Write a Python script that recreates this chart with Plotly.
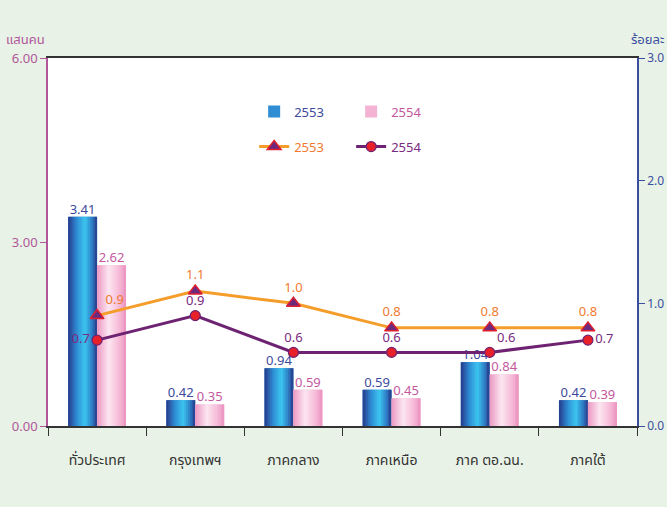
import plotly.graph_objects as go
import numpy as np

categories = ["ทั่วประเทศ", "กรุงเทพฯ", "ภาคกลาง", "ภาคเหนือ", "ภาค ตอ.ฉน.", "ภาคใต้"]
pop_2553 = [3.41, 0.42, 0.94, 0.59, 1.04, 0.42]
pop_2554 = [2.62, 0.35, 0.59, 0.45, 0.84, 0.39]
rate_2553 = [0.9, 1.1, 1.0, 0.8, 0.8, 0.8]
rate_2554 = [0.7, 0.9, 0.6, 0.6, 0.6, 0.7]
left_ticks = [0, 3, 6]
right_ticks = [0, 1, 2, 3]
years = ["2553", "2554"]

FONT = "Tahoma, 'Noto Sans Thai', Loma, Garuda, 'Noto Sans', sans-serif"
idx = np.arange(len(categories))
W = 0.295
N = 16

blue_stops = [(0, "#26398a"), (0.3, "#2f8dd4"), (0.58, "#3cc6f0"), (0.82, "#2f7fc6"), (1, "#273b8b")]
pink_stops = [(0, "#ec98c3"), (0.4, "#fce6f1"), (0.75, "#f6bcd8"), (1, "#eb93c0")]


def hex2rgb(h):
    h = h.lstrip("#")
    return [int(h[i:i + 2], 16) for i in (0, 2, 4)]


def interp(stops, t):
    for (p0, c0), (p1, c1) in zip(stops[:-1], stops[1:]):
        if p0 <= t <= p1:
            f = (t - p0) / (p1 - p0)
            a, b = hex2rgb(c0), hex2rgb(c1)
            r = [round(a[i] + (b[i] - a[i]) * f) for i in range(3)]
            return "rgb(%d,%d,%d)" % tuple(r)
    return stops[-1][1]


fig = go.Figure()

bar_series = [
    (years[0], pop_2553, -W, blue_stops, "#3b4a9c", "#2f8dd4"),
    (years[1], pop_2554, 0.0, pink_stops, "#c4589e", "#f4b3d3"),
]

for name, vals, off, stops, tcol, legcol in bar_series:
    # legend entry (hidden beneath gradient strips)
    fig.add_trace(go.Bar(
        x=idx, y=vals, width=W, offset=off,
        marker=dict(color=legcol, line=dict(width=0)),
        name="<span style='color:%s'>%s</span>" % (tcol, name),
        legend="legend", showlegend=True, hoverinfo="skip",
    ))
    s = W / N
    for k in range(N):
        wk = min(s * 1.6, W - k * s)
        fig.add_trace(go.Bar(
            x=idx, y=vals, width=wk, offset=off + k * s,
            marker=dict(color=interp(stops, (k + 0.5) / N), line=dict(width=0)),
            showlegend=False, hoverinfo="skip",
        ))
    fig.add_trace(go.Scatter(
        x=idx + off + W / 2, y=vals, mode="text",
        text=["%.2f" % v for v in vals], textposition="top center",
        textfont=dict(color=tcol, size=13, family=FONT),
        showlegend=False, hoverinfo="skip",
    ))

pos_2553 = ["top right"] + ["top center"] * (len(categories) - 1)
pos_2554 = ["middle left", "top center", "top center", "top center", "top right", "middle right"]

fig.add_trace(go.Scatter(
    x=idx, y=rate_2553, yaxis="y2", mode="lines+markers+text",
    line=dict(color="#f59d2a", width=3),
    marker=dict(symbol="triangle-up", size=12, color="#6b2a7e", line=dict(color="#e02030", width=1.5)),
    text=["%.1f" % v for v in rate_2553], textposition=pos_2553,
    textfont=dict(color="#f07a30", size=13, family=FONT),
    name="<span style='color:#f07a30'>%s</span>" % years[0], legend="legend2",
))
fig.add_trace(go.Scatter(
    x=idx, y=rate_2554, yaxis="y2", mode="lines+markers+text",
    line=dict(color="#6e2372", width=3),
    marker=dict(symbol="circle", size=10, color="#e8202a", line=dict(color="#6e2372", width=1.2)),
    text=["%.1f" % v for v in rate_2554], textposition=pos_2554,
    textfont=dict(color="#7a2a80", size=13, family=FONT),
    name="<span style='color:#7a2a80'>%s</span>" % years[1], legend="legend2",
))

fig.update_layout(
    width=667, height=507,
    margin=dict(l=48, r=30, t=58, b=81, autoexpand=False),
    paper_bgcolor="#e8f2e6", plot_bgcolor="#ffffff",
    font=dict(family=FONT, size=13),
    barmode="overlay",
    xaxis=dict(
        range=[-0.5, len(categories) - 0.5],
        tickvals=idx, ticktext=categories, ticks="",
        tickfont=dict(color="#333333", size=14, family=FONT),
        ticklabelstandoff=20, automargin=False,
        showline=True, linecolor="#333333", linewidth=1.5, mirror=True,
        showgrid=False, zeroline=False,
        minor=dict(tick0=-0.5, dtick=1, ticks="outside", ticklen=8, tickcolor="#333333", showgrid=False),
    ),
    yaxis=dict(
        range=[0, 6], tickvals=left_ticks, tickformat=".2f",
        ticks="outside", ticklen=6, tickcolor="#b0579a",
        tickfont=dict(color="#b0579a", size=13, family=FONT),
        showline=True, linecolor="#b0579a", linewidth=1.5, automargin=False,
        showgrid=False, zeroline=False,
    ),
    yaxis2=dict(
        range=[0, 3], tickvals=right_ticks, tickformat=".1f",
        overlaying="y", side="right",
        ticks="outside", ticklen=6, tickcolor="#3a4fa0",
        ticklabelstandoff=0, automargin=False,
        tickfont=dict(color="#3a4fa0", size=12, family=FONT),
        showline=True, linecolor="#3a4fa0", linewidth=1.5,
        showgrid=False, zeroline=False,
    ),
    legend=dict(
        orientation="h", x=0.35, y=0.895, xanchor="left", yanchor="top",
        bgcolor="rgba(0,0,0,0)", font=dict(size=13, family=FONT),
        entrywidth=52, entrywidthmode="pixels", traceorder="normal",
    ),
    legend2=dict(
        orientation="h", x=0.35, y=0.80, xanchor="left", yanchor="top",
        bgcolor="rgba(0,0,0,0)", font=dict(size=13, family=FONT),
        entrywidth=52, entrywidthmode="pixels", traceorder="normal",
    ),
    annotations=[
        dict(text="แสนคน", xref="paper", yref="paper", x=-0.075, y=1.05,
             xanchor="left", yanchor="middle", showarrow=False,
             font=dict(color="#b0579a", size=13, family=FONT)),
        dict(text="ร้อยละ", xref="paper", yref="paper", x=1.049, y=1.05,
             xanchor="right", yanchor="middle", showarrow=False,
             font=dict(color="#3a4fa0", size=13, family=FONT)),
    ],
)

fig.write_html(
    "out.html",
    config={"displayModeBar": False},
    post_script="document.body.style.margin='0';document.body.style.overflow='hidden';"
                "document.body.style.background='#e8f2e6';",
)
